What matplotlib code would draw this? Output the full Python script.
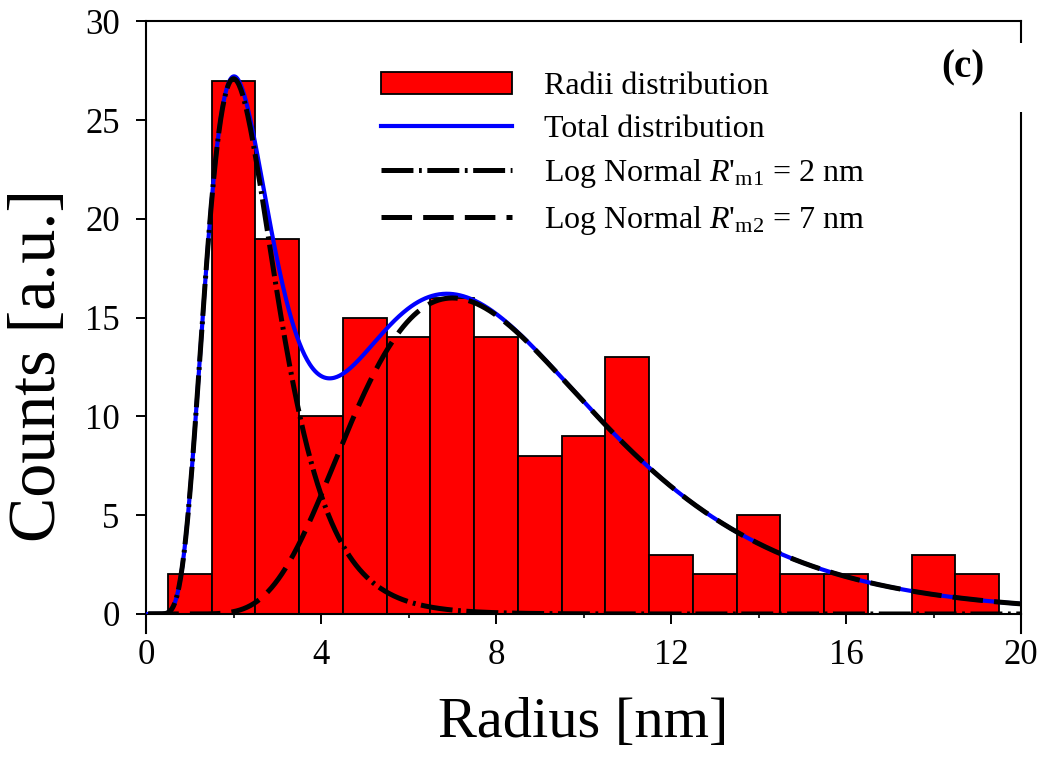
import numpy as np
import matplotlib
matplotlib.use("Agg")
import matplotlib.pyplot as plt
from matplotlib.patches import Rectangle
from matplotlib.lines import Line2D

plt.rcParams["font.family"] = ["Liberation Serif", "DejaVu Serif"]
plt.rcParams["mathtext.fontset"] = "custom"
plt.rcParams["mathtext.rm"] = "Liberation Serif"
plt.rcParams["mathtext.it"] = "Liberation Serif:italic"
plt.rcParams["lines.scale_dashes"] = False

# histogram of radii (bin centres in nm, counts)
radius_bins = [1, 2, 3, 4, 5, 6, 7, 8, 9, 10, 11, 12, 13, 14, 15, 16, 17, 18, 19]
counts = [2, 27, 19, 10, 15, 14, 16, 14, 8, 9, 13, 3, 2, 5, 2, 2, 0, 3, 2]

# log-normal fit components: amplitude, mode radius R'm, width
peak_heights = [27.1, 16.0]
peak_radii = [2.0, 7.0]
peak_widths = [0.40, 0.40]

x_ticks = [0, 4, 8, 12, 16, 20]
y_ticks = [0, 5, 10, 15, 20, 25, 30]

fig = plt.figure(figsize=(10.43, 7.65), dpi=100)
ax = fig.add_axes([0.14, 0.1974, 0.839, 0.7745])

bars = ax.bar(radius_bins, counts, width=1.0, color="#ff0000", edgecolor="black",
              linewidth=1.3, zorder=1, label="Radii distribution")

r = np.linspace(0.05, 20, 1000)
comps = [a * np.exp(-0.5 * (np.log(r / x0) / b) ** 2)
         for a, x0, b in zip(peak_heights, peak_radii, peak_widths)]
total = comps[0] + comps[1]

l_tot, = ax.plot(r, total, color="#0000ff", lw=3.0, zorder=3,
                 label="Total distribution")
l_1, = ax.plot(r, comps[0], color="black", lw=3.6, zorder=4,
               dashes=(23, 4, 2, 4),
               label=r"Log Normal $\mathit{R}$'$_{\mathrm{m1}}$ = 2 nm")
l_2, = ax.plot(r, comps[1], color="black", lw=3.6, zorder=4,
               dashes=(22, 8),
               label=r"Log Normal $\mathit{R}$'$_{\mathrm{m2}}$ = 7 nm")

ax.set_xlim(0, 20)
ax.set_ylim(0, 30)
ax.set_xticks(x_ticks)
ax.set_xticks([2, 6, 10, 14, 18], minor=True)
ax.set_yticks(y_ticks)
ax.tick_params(axis="both", which="major", direction="out", length=7, width=1.4,
               labelsize=25)
ax.tick_params(axis="x", which="major", pad=11)
ax.tick_params(axis="y", which="major", pad=12)
ax.tick_params(axis="x", which="minor", direction="out", length=3, width=1.2)
for s in ax.spines.values():
    s.set_linewidth(1.5)

ax.set_xlabel("Radius [nm]", fontsize=42)
ax.set_ylabel("Counts [a.u.]", fontsize=49)
ax.xaxis.set_label_coords(0.5, -0.14)
ax.yaxis.set_label_coords(-0.088, 0.42)

# side spines run a little below the x axis
for xa in (0, 1):
    ax.add_line(Line2D([xa, xa], [0, -0.032], transform=ax.transAxes,
                       color="black", lw=1.5, clip_on=False))
# gap in the right spine behind the panel label
ax.add_patch(Rectangle((0.99, 0.8465), 0.02, 0.118, transform=ax.transAxes,
                       facecolor="white", edgecolor="none", zorder=3,
                       clip_on=False))
ax.text(0.934, 0.922, "(c)", transform=ax.transAxes, fontsize=28,
        fontweight="bold", ha="center", va="center", zorder=6)

ax.legend(handles=[bars, l_tot, l_1, l_2], loc="upper left",
          bbox_to_anchor=(0.2686, 0.915), frameon=False,
          fontsize=23, handlelength=4.1, handletextpad=1.0, borderpad=0,
          borderaxespad=0, labelspacing=0.42)

fig.savefig("out.png", dpi=100)
